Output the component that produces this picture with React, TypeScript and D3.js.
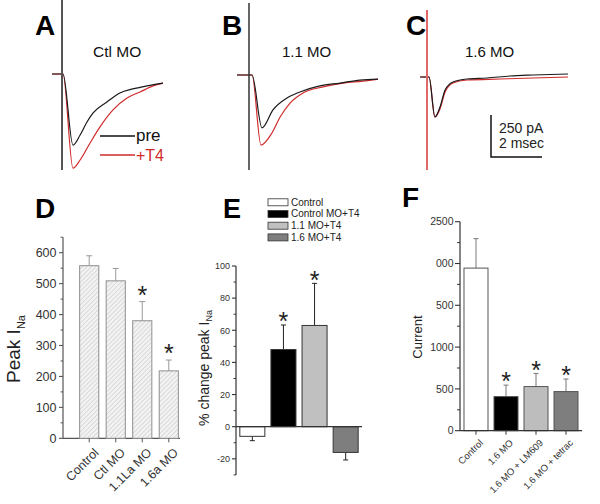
import React from 'react';
import * as d3 from 'd3';

const FONT = "'Liberation Sans', Arial, Helvetica, sans-serif";

// ---------- Top traces: [time (msec), current (pA)] ----------
const traceA_pre: [number, number][] = [
  [-0.39, 0], [-0.04, 0], [0.04, 0], [0.43, -423], [0.71, -363], [0.98, -286],
  [1.22, -232], [1.76, -167], [2.27, -113], [2.78, -89], [3.33, -71], [3.96, -54],
];
const traceA_t4: [number, number][] = [
  [-0.39, 0], [-0.04, 0], [0.04, 0], [0.43, -560], [0.71, -512], [1.1, -411],
  [1.49, -315], [2.0, -214], [2.55, -143], [3.06, -107], [3.57, -71], [3.96, -54],
];
const traceB_pre: [number, number][] = [
  [-0.47, 0], [-0.04, 0], [0.12, 0], [0.51, -315], [0.94, -208], [1.49, -137],
  [2.0, -101], [2.78, -65], [3.57, -48], [4.35, -30], [5.06, -24],
];
const traceB_t4: [number, number][] = [
  [-0.47, 0], [-0.04, 0], [0.12, 0], [0.47, -417], [0.9, -345], [1.22, -250],
  [1.61, -167], [2.12, -107], [2.9, -71], [3.69, -48], [4.47, -36], [5.06, -24],
];
const traceC_pre: [number, number][] = [
  [-0.27, 0], [-0.04, 0], [0.08, 0], [0.31, -238], [0.51, -179], [0.71, -77],
  [1.02, -30], [1.57, -12], [2.35, -6], [3.25, 6], [4.16, 12], [5.53, 18],
];
const traceC_t4: [number, number][] = [
  [-0.27, 0], [-0.04, 0], [0.08, 0], [0.31, -238], [0.51, -190], [0.71, -89],
  [1.02, -36], [1.57, -18], [2.86, -12], [4.16, -6], [5.53, 0],
];
// stimulus artifact extent [top, bottom] in pA
const artifactA = [440, -571];
const artifactB = [429, -565];
const artifactC = [399, -554];
const scaleBarPA = 250;
const scaleBarMs = 2;

// ---------- Panel D ----------
const dCats = ['Control', 'Ctl MO', '1.1La MO', '1.6a MO'];
const dVals = [558, 509, 380, 218];
const dErr = [590, 549, 442, 253];
const dStar = [false, false, true, true];
const dTicks = [0, 100, 200, 300, 400, 500, 600];

// ---------- Panel E ----------
const eCats = ['Control', 'Control MO+T4', '1.1 MO+T4', '1.6 MO+T4'];
const eVals = [-6, 48, 63, -16];
const eErr = [-8.7, 63.3, 89.2, -20.7];
const eStar = [false, true, true, false];
const eTicks = [-20, 0, 20, 40, 60, 80, 100];

// ---------- Panel F ----------
const fCats = ['Control', '1.6 MO', '1.6 MO + LM609', '1.6 MO + tetrac'];
const fVals = [1945, 408, 528, 468];
const fErr = [2297, 545, 685, 618];
const fStar = [false, true, true, true];
const fTicks = [0, 500, 1000, 1500, 2000, 2500];
const fTickLabels = ['0', '500', '1000', '500', '000', '2500'];

const PX_PER_MS = 25.5;
const PX_PER_250 = 42;
const STAR_SIZE = 25;
const STAR_MID = STAR_SIZE * 0.57;

function TracePanel(props: {
  x0: number; base: number; pre: [number, number][]; t4: [number, number][];
  artifact: number[]; artColor: string; artWidth: number;
}) {
  const xs = d3.scaleLinear().domain([0, 1]).range([props.x0, props.x0 + PX_PER_MS]);
  const ys = d3.scaleLinear().domain([0, -250]).range([props.base, props.base + PX_PER_250]);
  const line = d3.line<[number, number]>().x(d => xs(d[0])).y(d => ys(d[1])).curve(d3.curveMonotoneX);
  return (
    <g>
      <path d={line(props.t4) || ''} fill="none" stroke="#d12a2a" strokeWidth={1.2} />
      <path d={line(props.pre) || ''} fill="none" stroke="#1a1a1a" strokeWidth={1.2} />
      <line x1={xs(0)} x2={xs(0)} y1={ys(props.artifact[0])} y2={ys(props.artifact[1])}
        stroke={props.artColor} strokeWidth={props.artWidth} />
    </g>
  );
}

function YAxis(props: {
  x: number; y: d3.ScaleLinear<number, number>; ticks: number[]; labels: string[];
  minor: number[]; top: number; bottom: number; fontSize: number; color: string; labelX: number; len: number;
}) {
  const { x, y } = props;
  return (
    <g>
      <line x1={x} x2={x} y1={y(props.top)} y2={y(props.bottom)} stroke={props.color} strokeWidth={1.2} />
      {props.ticks.map((t, i) => (
        <g key={'t' + i}>
          <line x1={x - props.len} x2={x} y1={y(t)} y2={y(t)} stroke={props.color} strokeWidth={1.1} />
          <text x={props.labelX} y={y(t)} dy="0.36em" textAnchor="end" fontSize={props.fontSize}
            fill="#333" fontFamily={FONT}>{props.labels[i]}</text>
        </g>
      ))}
      {props.minor.map((t, i) => (
        <line key={'m' + i} x1={x - props.len * 0.6} x2={x} y1={y(t)} y2={y(t)} stroke={props.color} strokeWidth={1} />
      ))}
    </g>
  );
}

export default function App() {
  // ---- D scales
  const dx = d3.scaleBand<string>().domain(dCats).range([73, 185]).paddingInner(0.278).paddingOuter(0.25);
  const dy = d3.scaleLinear().domain([0, 600]).range([438.3, 252.7]);
  // ---- E scales
  const ex = d3.scaleBand<string>().domain(eCats).range([236, 362]).paddingInner(0.196).paddingOuter(0.123);
  const ey = d3.scaleLinear().domain([0, 100]).range([426.7, 266]);
  // ---- F scales
  const fx = d3.scaleBand<string>().domain(fCats).range([460, 582]).paddingInner(0.2).paddingOuter(0.133);
  const fy = d3.scaleLinear().domain([0, 2500]).range([430.7, 221.7]);

  const eColors = ['#ffffff', '#000000', '#c0c0c0', '#7e7e7e'];
  const fColors = ['#ffffff', '#000000', '#bdbdbd', '#7e7e7e'];

  const sbX = d3.scaleLinear().domain([0, 1]).range([0, PX_PER_MS]);
  const sbY = d3.scaleLinear().domain([0, 250]).range([0, PX_PER_250]);

  return (
    <svg width={600} height={504} style={{ position: 'absolute', left: 0, top: 0, background: '#fff' }}
      fontFamily={FONT}>
      <defs>
        <pattern id="hatch" width={3.2} height={3.2} patternUnits="userSpaceOnUse" patternTransform="rotate(45)">
          <rect width={3.2} height={3.2} fill="#f2f2f2" />
          <line x1={0} y1={0} x2={0} y2={3.2} stroke="#c4c4c4" strokeWidth={1} />
        </pattern>
      </defs>
      <rect width={600} height={504} fill="#fff" />

      {/* ---------------- Top traces ---------------- */}
      <text x={35} y={35} fontSize={28} fontWeight="bold">A</text>
      <text x={222} y={35} fontSize={28} fontWeight="bold">B</text>
      <text x={406} y={35} fontSize={28} fontWeight="bold">C</text>
      <text x={93} y={57} fontSize={15.5} fill="#111">Ctl MO</text>
      <text x={282} y={57} fontSize={15} fill="#111">1.1 MO</text>
      <text x={465} y={57} fontSize={15} fill="#111">1.6 MO</text>

      <TracePanel x0={62} base={74} pre={traceA_pre} t4={traceA_t4} artifact={artifactA} artColor="#555" artWidth={2} />
      <TracePanel x0={249} base={75} pre={traceB_pre} t4={traceB_t4} artifact={artifactB} artColor="#333" artWidth={1.5} />
      <TracePanel x0={427} base={77} pre={traceC_pre} t4={traceC_t4} artifact={artifactC} artColor="#e06868" artWidth={2} />

      {/* legend A */}
      <line x1={100} x2={135} y1={136} y2={136} stroke="#111" strokeWidth={1.5} />
      <text x={136} y={141} fontSize={17} fill="#111">pre</text>
      <line x1={100} x2={135} y1={155} y2={155} stroke="#d12a2a" strokeWidth={1.5} />
      <text x={136} y={161} fontSize={16} fill="#d12a2a">+T4</text>

      {/* scale bar */}
      <path d={`M${491},${157 - sbY(scaleBarPA)}V${157}H${491 + sbX(scaleBarMs)}`} fill="none" stroke="#111" strokeWidth={1.5} />
      <text x={499} y={133} fontSize={14} fill="#222">250 pA</text>
      <text x={499} y={148} fontSize={14} fill="#222">2 msec</text>

      {/* ---------------- Panel D ---------------- */}
      <text x={35} y={218} fontSize={28} fontWeight="bold">D</text>
      <YAxis x={63} y={dy} ticks={dTicks} labels={dTicks.map(String)} minor={[50, 150, 250, 350, 450, 550, 650]}
        top={650} bottom={0} fontSize={12.5} color="#555" labelX={56.5} len={4} />
      <line x1={63} x2={180} y1={dy(0)} y2={dy(0)} stroke="#555" strokeWidth={1.2} />
      {dCats.map((c, i) => {
        const cx = (dx(c) as number) + dx.bandwidth() / 2;
        return (
          <g key={c}>
            <line x1={cx} x2={cx} y1={dy(dVals[i])} y2={dy(dErr[i])} stroke="#999" strokeWidth={1} />
            <line x1={cx - 3} x2={cx + 3} y1={dy(dErr[i])} y2={dy(dErr[i])} stroke="#999" strokeWidth={1} />
            <rect x={dx(c)} y={dy(dVals[i])} width={dx.bandwidth()} height={dy(0) - dy(dVals[i])}
              fill="url(#hatch)" stroke="#8f8f8f" strokeWidth={1} />
            <line x1={cx} x2={cx} y1={dy(0)} y2={dy(0) + 4} stroke="#555" strokeWidth={1} />
            {dStar[i] && <text x={cx} y={dy(dErr[i]) - 12 + STAR_MID} textAnchor="middle" fontSize={STAR_SIZE} fill="#222">*</text>}
            <text transform={`translate(${cx + 4},${dy(0) + 9}) rotate(-45)`} textAnchor="end" dy="0.7em"
              fontSize={12.5} fill="#333">{c}</text>
          </g>
        );
      })}
      <text transform="translate(20,349) rotate(-90)" textAnchor="middle" fontSize={19} fill="#222">
        Peak I<tspan fontSize={11} dy={5}>Na</tspan>
      </text>

      {/* ---------------- Panel E ---------------- */}
      <text x={223} y={218} fontSize={27} fontWeight="bold">E</text>
      {eCats.map((c, i) => (
        <g key={'lg' + c}>
          <rect x={268} y={202 + i * 11.7 - 3.2} width={20} height={7} fill={eColors[i]} stroke="#333" strokeWidth={0.8} />
          <text x={291} y={202 + i * 11.7} dy="0.35em" fontSize={10} fill="#222">{c}</text>
        </g>
      ))}
      <YAxis x={236} y={ey} ticks={eTicks} labels={eTicks.map(String)} minor={[-30, -10, 10, 30, 50, 70, 90]}
        top={100} bottom={-30} fontSize={9} color="#333" labelX={230} len={4} />
      {eCats.map((c, i) => {
        const cx = (ex(c) as number) + ex.bandwidth() / 2;
        const v = eVals[i];
        return (
          <g key={c}>
            <line x1={cx} x2={cx} y1={ey(v)} y2={ey(eErr[i])} stroke="#222" strokeWidth={1} />
            <line x1={cx - 2.5} x2={cx + 2.5} y1={ey(eErr[i])} y2={ey(eErr[i])} stroke="#222" strokeWidth={1} />
            <rect x={ex(c)} y={Math.min(ey(v), ey(0))} width={ex.bandwidth()} height={Math.abs(ey(v) - ey(0))}
              fill={eColors[i]} stroke="#333" strokeWidth={1} />
            {eStar[i] && <text x={cx} y={ey(eErr[i]) - 9 + STAR_MID} textAnchor="middle" fontSize={STAR_SIZE} fill="#222">*</text>}
          </g>
        );
      })}
      <line x1={236} x2={362} y1={ey(0)} y2={ey(0)} stroke="#333" strokeWidth={1.2} />
      <text transform="translate(209,368) rotate(-90)" textAnchor="middle" fontSize={14} fill="#222">
        % change peak I<tspan fontSize={9} dy={3}>Na</tspan>
      </text>

      {/* ---------------- Panel F ---------------- */}
      <text x={402} y={207} fontSize={28} fontWeight="bold">F</text>
      <YAxis x={460} y={fy} ticks={fTicks} labels={fTickLabels} minor={[250, 750, 1250, 1750, 2250]}
        top={2500} bottom={0} fontSize={10.5} color="#333" labelX={453.5} len={5} />
      {fCats.map((c, i) => {
        const cx = (fx(c) as number) + fx.bandwidth() / 2;
        return (
          <g key={c}>
            <line x1={cx} x2={cx} y1={fy(fVals[i])} y2={fy(fErr[i])} stroke="#777" strokeWidth={1} />
            <line x1={cx - 2.5} x2={cx + 2.5} y1={fy(fErr[i])} y2={fy(fErr[i])} stroke="#777" strokeWidth={1} />
            <rect x={fx(c)} y={fy(fVals[i])} width={fx.bandwidth()} height={fy(0) - fy(fVals[i])}
              fill={fColors[i]} stroke="#555" strokeWidth={1} />
            <line x1={cx} x2={cx} y1={fy(0)} y2={fy(0) + 4} stroke="#333" strokeWidth={1} />
            {fStar[i] && <text x={cx} y={fy(fErr[i]) - 9 + STAR_MID} textAnchor="middle" fontSize={STAR_SIZE} fill="#222">*</text>}
            <text transform={`translate(${cx + 3},${fy(0) + 8}) rotate(-45)`} textAnchor="end" dy="0.7em"
              fontSize={9.5} fill="#333">{c}</text>
          </g>
        );
      })}
      <line x1={460} x2={582} y1={fy(0)} y2={fy(0)} stroke="#333" strokeWidth={1.2} />
      <text transform="translate(422,337) rotate(-90)" textAnchor="middle" fontSize={13} fill="#222">Current</text>
    </svg>
  );
}
